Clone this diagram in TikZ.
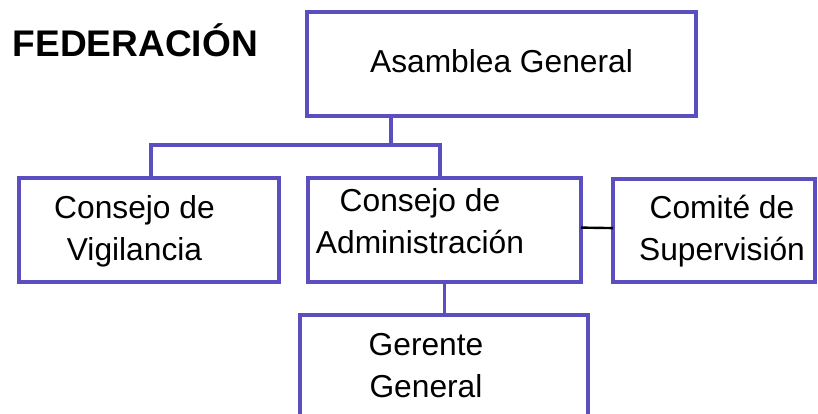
\documentclass[tikz,border=0pt]{standalone}
\usepackage{fontspec}
\setmainfont{Liberation Sans}
\definecolor{boxblue}{RGB}{90,78,192}
\begin{document}
\begin{tikzpicture}[x=0.75pt,y=-0.75pt,
  orgbox/.style={draw=boxblue,line width=2.3pt,inner sep=0pt,outer sep=0pt},
  link/.style={draw=boxblue,line width=2.3pt},
  lbl/.style={font=\fontsize{23.8}{31}\selectfont,align=center,inner sep=0pt,anchor=base},
  title/.style={font=\fontsize{27.8}{33}\selectfont\bfseries,inner sep=0pt,anchor=base west}]
\clip (0,0) rectangle (818,414);
% boxes
\node[orgbox,minimum width=389*0.75pt,minimum height=104*0.75pt] (asm) at (501.5,64) {};
\node[orgbox,minimum width=260*0.75pt,minimum height=104*0.75pt] (vig) at (149,230) {};
\node[orgbox,minimum width=273*0.75pt,minimum height=104*0.75pt] (adm) at (444.5,230) {};
\node[orgbox,minimum width=202*0.75pt,minimum height=103*0.75pt] (com) at (714,230.5) {};
\node[orgbox,minimum width=288*0.75pt,minimum height=110*0.75pt] (ger) at (444,370) {};
% texts
\node[title] (fed) at (12.5,56) {FEDERACIÓN};
\node[lbl] (tasm) at (501.5,72) {Asamblea General};
\node[lbl] (tvig) at (134.5,260) {Consejo de\\Vigilancia};
\node[lbl] (tadm) at (420,253) {Consejo de\\Administración};
\node[lbl] (tcom) at (722,260) {Comité de\\Supervisión};
\node[lbl] (tger) at (426,397) {Gerente\\General};
% connectors
\coordinate (j) at (391,145);
\coordinate (bl) at (151,145);
\coordinate (br) at (440,145);
\draw[link] (j |- asm.south) -- (j);
\draw[link] (bl |- vig.north) -- (bl) -- (br) -- (br |- adm.north);
\draw[link] (adm.south) -- (adm.south |- ger.north);
\draw[black,line width=1.8pt] ([yshift=1.8pt]adm.east) -- ([yshift=1.8pt]com.west);
\end{tikzpicture}
\end{document}
